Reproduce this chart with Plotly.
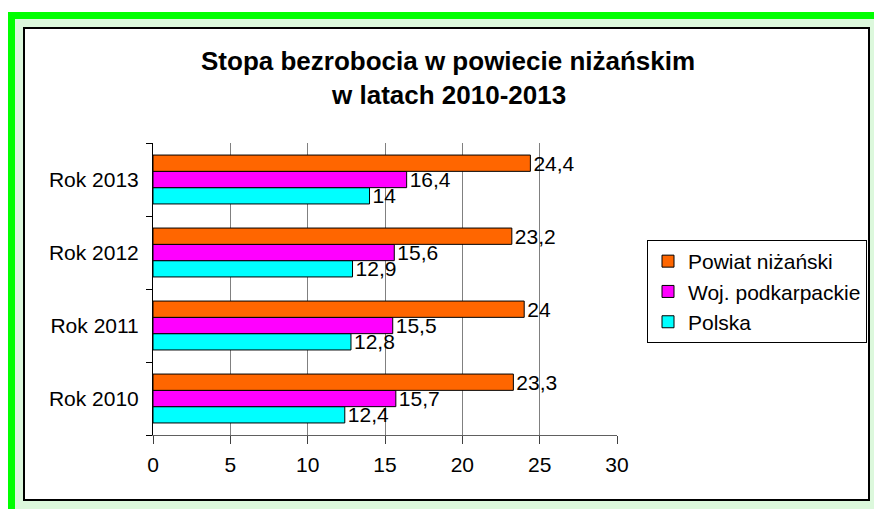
import plotly.graph_objects as go

categories = ["Rok 2010", "Rok 2011", "Rok 2012", "Rok 2013"]
polska = [12.4, 12.8, 12.9, 14]
woj = [15.7, 15.5, 15.6, 16.4]
powiat = [23.3, 24, 23.2, 24.4]
series_names = ["Polska", "Woj. podkarpackie", "Powiat niżański"]
series_colors = ["#00FFFF", "#FF00FF", "#FF6600"]
legend_ranks = [3, 2, 1]
x_ticks = [0, 5, 10, 15, 20, 25, 30]

FONT = "Liberation Sans, Arial, sans-serif"
W, H = 874, 509
L, R, T, B = 153, 257, 143, 74
PW, PH = W - L - R, H - T - B


def px(xp):
    return (xp - L) / PW


def py(yp):
    return (H - B - yp) / PH


def fmt(v):
    return (f"{v:g}").replace(".", ",")


fig = go.Figure()
for name, vals, col, rk in zip(series_names, [polska, woj, powiat], series_colors, legend_ranks):
    fig.add_trace(go.Bar(
        y=categories, x=vals, orientation="h", name=name,
        marker=dict(color=col, line=dict(color="black", width=1)),
        text=[fmt(v) for v in vals], textposition="outside",
        textfont=dict(family=FONT, size=21, color="black"),
        constraintext="none", cliponaxis=False,
        legendrank=rk,
    ))

shapes = [
    dict(type="rect", xref="paper", yref="paper", layer="below",
         x0=px(11.5), x1=px(878), y0=py(15.5), y1=py(514),
         fillcolor="#dcf8dc", line=dict(color="#00FF00", width=7)),
    dict(type="rect", xref="paper", yref="paper", layer="below",
         x0=px(24), x1=px(869), y0=py(28), y1=py(500),
         fillcolor="white", line=dict(color="black", width=2)),
]

annotations = [
    dict(text="<b>Stopa bezrobocia w powiecie niżańskim</b>", xref="paper", yref="paper",
         x=px(448), y=py(61), xanchor="center", yanchor="middle", showarrow=False,
         font=dict(family=FONT, size=26, color="black")),
    dict(text="<b>w latach 2010-2013</b>", xref="paper", yref="paper",
         x=px(448), y=py(95), xanchor="center", yanchor="middle", showarrow=False,
         font=dict(family=FONT, size=26, color="black")),
]

fig.update_layout(
    width=W, height=H,
    margin=dict(l=L, r=R, t=T, b=B, autoexpand=False),
    paper_bgcolor="white", plot_bgcolor="white",
    barmode="group", bargap=0.33, bargroupgap=0,
    font=dict(family=FONT, size=21, color="black"),
    shapes=shapes, annotations=annotations,
    showlegend=True,
    legend=dict(x=px(647), y=py(240), xanchor="left", yanchor="top",
                traceorder="normal",
                bgcolor="white", bordercolor="black", borderwidth=1,
                font=dict(family=FONT, size=21, color="black")),
    xaxis=dict(range=[0, 30], tickvals=x_ticks, ticktext=[str(t) for t in x_ticks],
               showgrid=True, gridcolor="#808080", gridwidth=1,
               zeroline=False, showline=True, linecolor="#606060", linewidth=1,
               ticks="outside", ticklen=8, tickcolor="#404040",
               ticklabelstandoff=3,
               tickfont=dict(family=FONT, size=21, color="black")),
    yaxis=dict(type="category", categoryorder="array", categoryarray=categories,
               showgrid=False, zeroline=False, showline=True, linecolor="black", linewidth=1,
               ticks="outside", ticklen=6, tickcolor="black", tickson="boundaries",
               ticklabelstandoff=9,
               tickfont=dict(family=FONT, size=21, color="black")),
)

fig.write_html("out.html", config={"displayModeBar": False},
               post_script="document.body.style.margin='0px';")
